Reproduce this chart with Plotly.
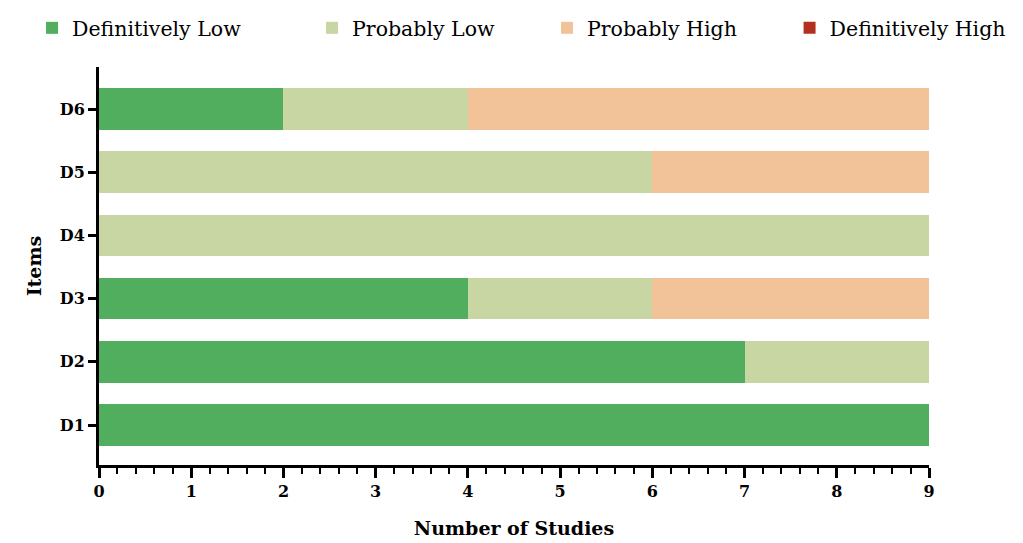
import plotly.graph_objects as go

items = ["D1", "D2", "D3", "D4", "D5", "D6"]
series_names = ["Definitively Low", "Probably Low", "Probably High", "Definitively High"]
definitively_low = [9, 7, 4, 0, 0, 2]
probably_low = [0, 2, 2, 9, 6, 2]
probably_high = [0, 0, 3, 0, 3, 5]
definitively_high = [0, 0, 0, 0, 0, 0]
colors = ["#50AE5E", "#C8D6A3", "#F2C299", "#B3301F"]
legend_x = [0.0235, 0.2972, 0.5269, 0.764]

FONT = "DejaVu Serif"

fig = go.Figure()
legend_ids = ["legend", "legend2", "legend3", "legend4"]
for name, vals, col, lid in zip(series_names,
                                [definitively_low, probably_low, probably_high, definitively_high],
                                colors, legend_ids):
    fig.add_trace(go.Bar(
        y=items, x=vals, name=name, orientation="h",
        marker=dict(color=col, line=dict(width=0)),
        width=0.66, legend=lid,
    ))

layout_legends = {}
for lid, lx in zip(legend_ids, legend_x):
    layout_legends[lid] = dict(
        orientation="h", x=lx, xanchor="left", y=1.0, yanchor="top",
        yref="container", xref="container",
        font=dict(size=20.5, family=FONT),
        bgcolor="rgba(0,0,0,0)",
    )

fig.update_layout(
    barmode="stack",
    width=1023, height=543,
    margin=dict(l=91, r=102, t=59, b=86, autoexpand=False),
    plot_bgcolor="white", paper_bgcolor="white",
    font=dict(family=FONT, color="black"),
    showlegend=True,
    xaxis=dict(
        range=[0, 9], dtick=1, tick0=0,
        showline=True, linecolor="black", linewidth=3,
        ticks="outside", ticklen=10, tickwidth=2.5, tickcolor="black",
        minor=dict(dtick=0.2, ticks="outside", ticklen=6, tickwidth=2, tickcolor="black"),
        showgrid=False, zeroline=False,
        tickfont=dict(size=16, family=FONT, weight="bold"),
        title=dict(text="<b>Number of Studies</b>", font=dict(size=19, family=FONT), standoff=22),
    ),
    yaxis=dict(
        range=[-0.633, 5.665],
        showline=True, linecolor="black", linewidth=3,
        ticks="outside", ticklen=8, tickwidth=2.5, tickcolor="black",
        showgrid=False, zeroline=False,
        tickfont=dict(size=16, family=FONT, weight="bold"),
        title=dict(text="<b>Items</b>", font=dict(size=19, family=FONT), standoff=14),
    ),
    **layout_legends,
)

fig.write_html("out.html")
